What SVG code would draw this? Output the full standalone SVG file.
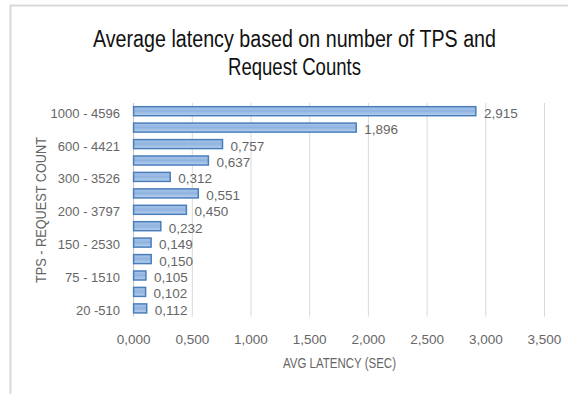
<svg xmlns="http://www.w3.org/2000/svg" width="568" height="394" viewBox="0 0 568 394">
<defs>
<linearGradient id="barfill" x1="0" y1="0" x2="0" y2="1">
<stop offset="0" stop-color="#a9c6ea"/>
<stop offset="0.5" stop-color="#8fb3e0"/>
<stop offset="1" stop-color="#bcd3f0"/>
</linearGradient>
<style>
.bar{fill:url(#barfill);stroke:#4a7ebb;stroke-width:1.5}
.grid{stroke:#d9d9d9;stroke-width:1}
.axis{stroke:#bfbfbf;stroke-width:1}
.lbl{font-family:"Liberation Sans",Arial,sans-serif;font-size:13.5px;fill:#666}
.cat{font-family:"Liberation Sans",Arial,sans-serif;font-size:13px;fill:#666;text-anchor:end}
.tick{font-family:"Liberation Sans",Arial,sans-serif;font-size:13.5px;fill:#666;text-anchor:middle}
.ttl{font-family:"Liberation Sans",Arial,sans-serif;font-size:14px;fill:#666;text-anchor:middle}
.title{font-family:"Liberation Sans",Arial,sans-serif;font-size:23px;fill:#111;text-anchor:middle}
</style>
</defs>
<rect width="568" height="394" fill="#fff"/>
<path d="M10.5 394 V5.5 H568" fill="none" stroke="#d9d9d9" stroke-width="2"/>
<g id="title">
<text class="title" x="294.5" y="47" textLength="403" lengthAdjust="spacingAndGlyphs">Average latency based on number of TPS and</text>
<text class="title" x="294.5" y="75" textLength="133" lengthAdjust="spacingAndGlyphs">Request Counts</text>
</g>
<g id="gridlines">
<line class="grid" x1="192.3" y1="103" x2="192.3" y2="316.6"/>
<line class="grid" x1="251" y1="103" x2="251" y2="316.6"/>
<line class="grid" x1="309.7" y1="103" x2="309.7" y2="316.6"/>
<line class="grid" x1="368.4" y1="103" x2="368.4" y2="316.6"/>
<line class="grid" x1="427.1" y1="103" x2="427.1" y2="316.6"/>
<line class="grid" x1="485.8" y1="103" x2="485.8" y2="316.6"/>
<line class="grid" x1="544.5" y1="103" x2="544.5" y2="316.6"/>
<line class="axis" x1="133.6" y1="103" x2="133.6" y2="316.6"/>
</g>
<g id="bars">
<rect class="bar" x="133.6" y="106.7" width="342.2" height="9"/>
<rect class="bar" x="133.6" y="123.1" width="222.6" height="9"/>
<rect class="bar" x="133.6" y="139.6" width="88.9" height="9"/>
<rect class="bar" x="133.6" y="156.0" width="74.8" height="9"/>
<rect class="bar" x="133.6" y="172.4" width="36.6" height="9"/>
<rect class="bar" x="133.6" y="188.9" width="64.7" height="9"/>
<rect class="bar" x="133.6" y="205.3" width="52.8" height="9"/>
<rect class="bar" x="133.6" y="221.7" width="27.2" height="9"/>
<rect class="bar" x="133.6" y="238.1" width="17.5" height="9"/>
<rect class="bar" x="133.6" y="254.6" width="17.6" height="9"/>
<rect class="bar" x="133.6" y="271.0" width="12.3" height="9"/>
<rect class="bar" x="133.6" y="287.4" width="12.0" height="9"/>
<rect class="bar" x="133.6" y="303.9" width="13.1" height="9"/>
</g>
<g id="data-labels">
<text class="lbl" x="484" y="117.7">2,915</text>
<text class="lbl" x="364.2" y="134.1">1,896</text>
<text class="lbl" x="230.5" y="150.6">0,757</text>
<text class="lbl" x="216.4" y="167.0">0,637</text>
<text class="lbl" x="178.2" y="183.4">0,312</text>
<text class="lbl" x="206.3" y="199.9">0,551</text>
<text class="lbl" x="194.4" y="216.3">0,450</text>
<text class="lbl" x="168.8" y="232.7">0,232</text>
<text class="lbl" x="159.1" y="249.1">0,149</text>
<text class="lbl" x="159.2" y="265.6">0,150</text>
<text class="lbl" x="153.9" y="282.0">0,105</text>
<text class="lbl" x="153.6" y="298.4">0,102</text>
<text class="lbl" x="154.7" y="314.9">0,112</text>
</g>
<g id="category-labels">
<text class="cat" x="120" y="117.7">1000 - 4596</text>
<text class="cat" x="120" y="150.6">600 - 4421</text>
<text class="cat" x="120" y="183.4">300 - 3526</text>
<text class="cat" x="120" y="216.3">200 - 3797</text>
<text class="cat" x="120" y="249.1">150 - 2530</text>
<text class="cat" x="120" y="282.0">75 - 1510</text>
<text class="cat" x="120" y="314.9">20 -510</text>
</g>
<g id="x-ticks">
<text class="tick" x="133.6" y="344">0,000</text>
<text class="tick" x="192.3" y="344">0,500</text>
<text class="tick" x="251" y="344">1,000</text>
<text class="tick" x="309.7" y="344">1,500</text>
<text class="tick" x="368.4" y="344">2,000</text>
<text class="tick" x="427.1" y="344">2,500</text>
<text class="tick" x="485.8" y="344">3,000</text>
<text class="tick" x="544.5" y="344">3,500</text>
</g>
<g id="axis-titles">
<text class="ttl" x="339.5" y="368" textLength="113" lengthAdjust="spacingAndGlyphs">AVG LATENCY (SEC)</text>
<text class="ttl" transform="translate(45.5 210) rotate(-90)" x="0" y="0" textLength="146" lengthAdjust="spacingAndGlyphs">TPS - REQUEST COUNT</text>
</g>
</svg>
